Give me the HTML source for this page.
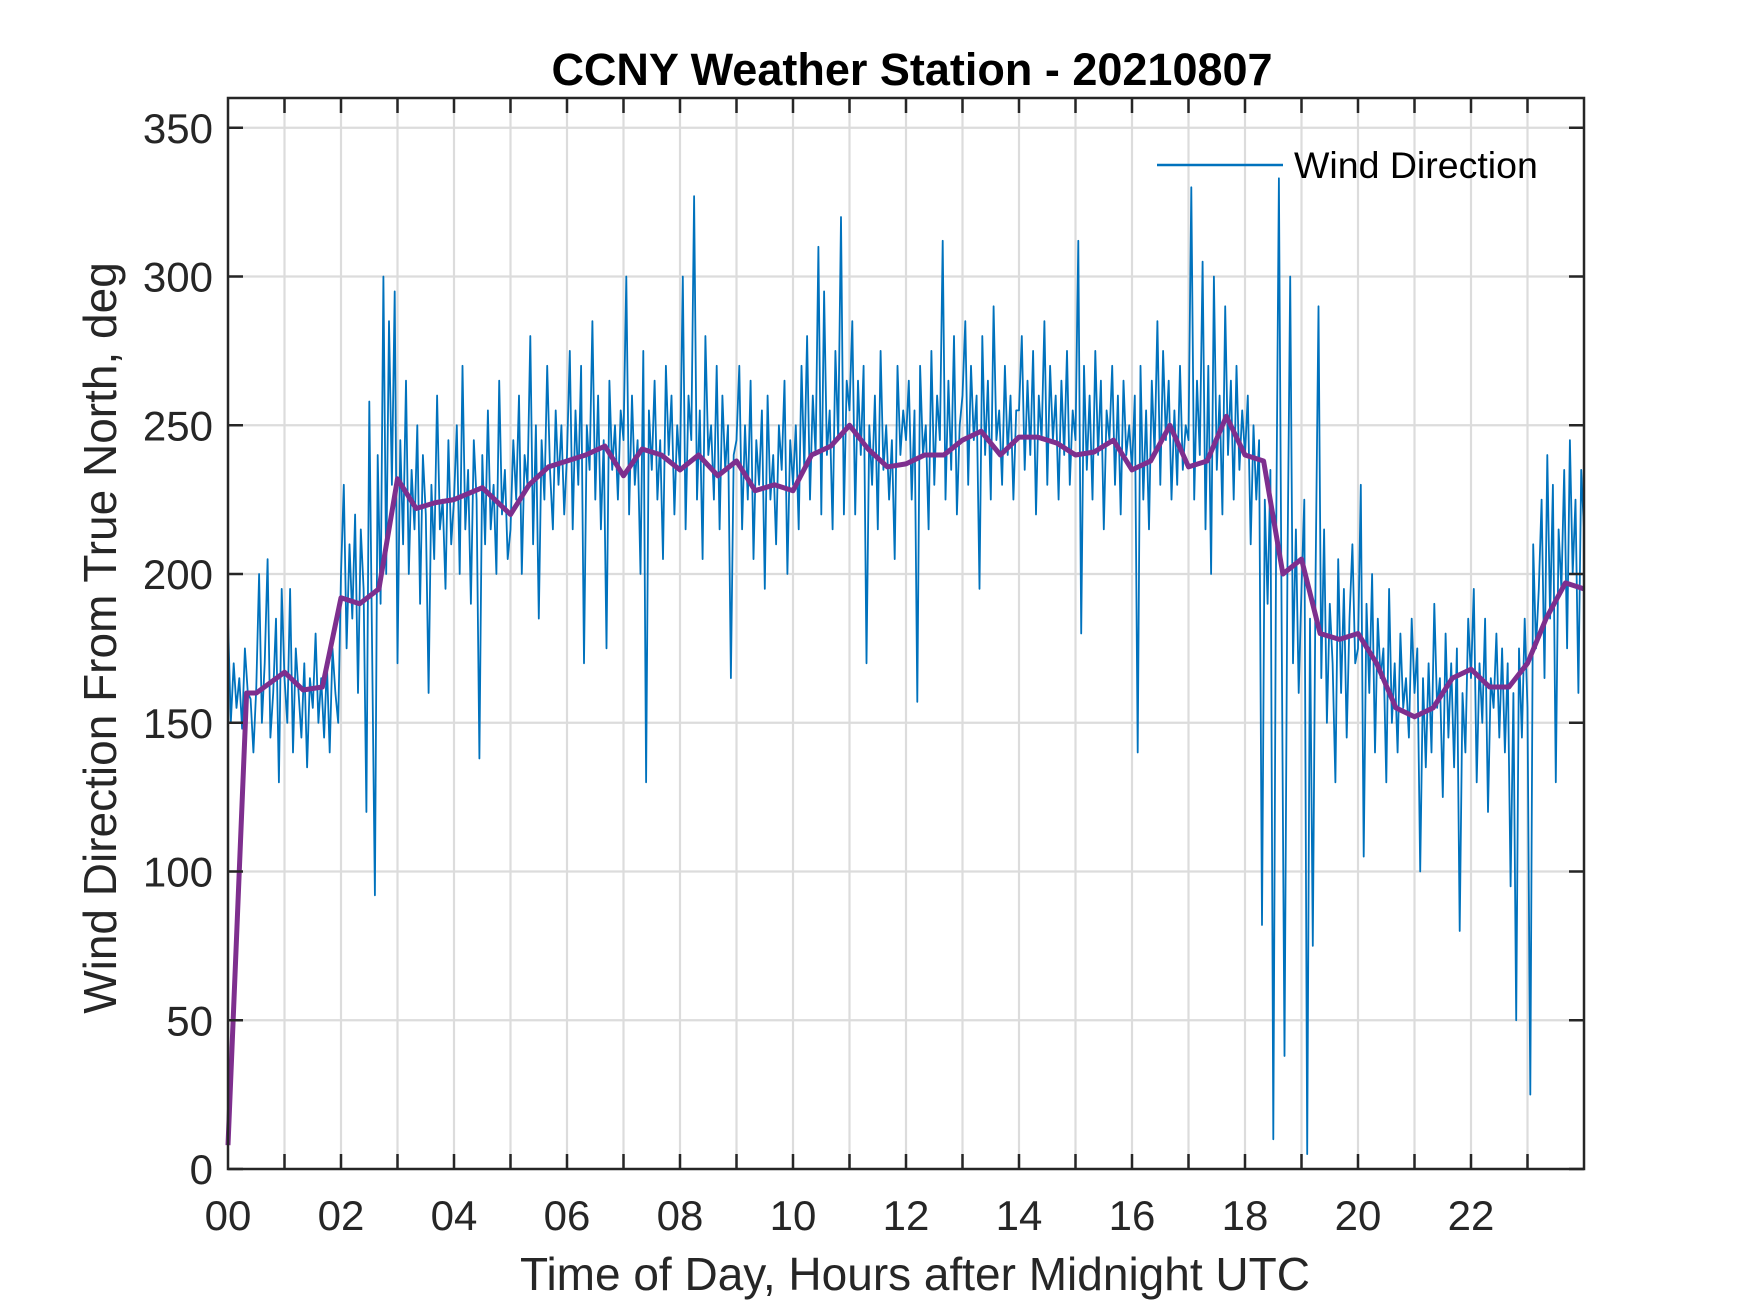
<!DOCTYPE html>
<html><head><meta charset="utf-8"><style>
html,body{margin:0;padding:0;background:#fff;}
svg{display:block;font-family:"Liberation Sans",Arial,sans-serif;}
</style></head><body>
<svg id="chart" width="1750" height="1313" viewBox="0 0 1750 1313">
<rect x="0" y="0" width="1750" height="1313" fill="#fff"/>
<g id="grid"></g>
<g id="plot"></g>
<g id="axes"></g>
<text x="912" y="85" text-anchor="middle" font-size="45" font-weight="bold" fill="#000">CCNY Weather Station - 20210807</text>
<text x="915" y="1290" text-anchor="middle" font-size="46" fill="#262626">Time of Day, Hours after Midnight UTC</text>
<text transform="translate(116,638) rotate(-90)" text-anchor="middle" font-size="46" fill="#262626">Wind Direction From True North, deg</text>
<g>
<line x1="1157" y1="165" x2="1283" y2="165" stroke="#0072BD" stroke-width="2.5"/>
<text x="1294" y="178" font-size="37.5" fill="#000">Wind Direction</text>
</g>
</svg>
<script>
const xTicks=[0,2,4,6,8,10,12,14,16,18,20,22];
const xTickLabels=["00","02","04","06","08","10","12","14","16","18","20","22"];
const yTicks=[0,50,100,150,200,250,300,350];
const rawStepHours=0.05;
const rawValues=[
185,150,170,155,165,148,175,160,158,140,162,200,150,170,205,145,160,185,130,195,
165,150,195,140,175,160,145,170,135,165,155,180,150,165,145,170,140,175,160,150,
200,230,175,210,185,220,160,215,195,120,258,175,92,240,190,300,200,285,230,295,
170,245,210,265,200,235,215,250,190,240,220,160,230,205,260,215,225,195,245,210,
225,250,200,270,215,235,190,245,225,138,240,210,255,215,230,200,265,220,235,205,
215,245,225,260,200,240,230,280,210,250,185,245,225,270,235,215,255,230,250,220,
240,275,215,255,230,270,170,250,235,285,225,260,215,245,175,265,235,250,225,255,
245,300,220,260,230,245,200,275,130,255,235,265,225,245,205,270,240,260,220,250,
235,300,215,260,245,327,225,255,205,280,240,250,225,270,215,260,235,250,165,240,
245,270,215,250,225,265,205,245,230,255,195,260,225,240,210,250,235,265,200,245,
230,250,215,270,235,280,225,260,240,310,220,295,240,255,215,275,245,320,220,265,
255,285,220,265,240,270,170,250,230,260,215,275,235,250,225,245,205,270,240,255,
245,265,225,255,157,270,240,250,215,275,230,260,245,312,225,265,235,280,220,250,
260,285,230,270,245,260,195,280,240,265,225,290,245,255,230,270,240,260,225,255,
255,280,235,265,240,275,220,260,245,285,230,270,245,260,225,265,240,275,230,255,
245,312,180,270,235,260,225,275,240,265,215,255,245,270,230,260,220,265,240,250,
235,260,140,270,225,255,215,265,240,285,230,275,245,265,225,255,230,270,235,250,
245,330,225,265,240,305,215,270,200,300,235,260,220,290,240,265,225,270,235,255,
240,260,210,250,225,245,82,225,190,235,10,210,333,180,38,200,300,170,215,160,
195,225,5,185,75,200,290,165,215,150,190,170,130,205,160,195,145,185,210,170,
175,230,105,190,160,200,140,185,165,175,130,195,150,170,140,180,155,165,145,185,
160,175,100,165,135,170,140,190,155,165,125,180,145,170,135,175,80,160,140,185,
165,195,130,170,150,185,120,165,155,180,145,175,140,170,95,160,50,175,145,185,
155,25,210,175,195,225,165,240,185,230,130,215,195,235,175,245,200,225,160,235,215];
const smoothHours=[0,0.33,0.5,1,1.33,1.67,2,2.33,2.67,3,3.33,3.67,4,4.5,5,5.33,5.67,6,6.33,6.67,7,7.33,7.67,8,8.33,8.67,9,9.33,9.67,10,10.33,10.67,11,11.33,11.67,12,12.33,12.67,13,13.33,13.67,14,14.33,14.67,15,15.33,15.67,16,16.33,16.67,17,17.33,17.67,18,18.33,18.67,19,19.33,19.67,20,20.33,20.67,21,21.33,21.67,22,22.33,22.67,23,23.33,23.67,24];
const smoothValues=[8,160,160,167,161,162,192,190,195,232,222,224,225,229,220,230,236,238,240,243,233,242,240,235,240,233,238,228,230,228,240,243,250,242,236,237,240,240,245,248,240,246,246,244,240,241,245,235,238,250,236,238,253,240,238,200,205,180,178,180,170,155,152,155,165,168,162,162,170,185,197,195];

const X0=228,X1=1584,Y0=1169,Y1=98;
function sx(h){return X0+(h/24)*(X1-X0);}
function sy(v){return Y0-(v/360)*(Y0-Y1);}
const NS="http://www.w3.org/2000/svg";
function mk(tag,attrs,parent){const e=document.createElementNS(NS,tag);for(const k in attrs)e.setAttribute(k,attrs[k]);parent.appendChild(e);return e;}
const grid=document.getElementById('grid'),plot=document.getElementById('plot'),axes=document.getElementById('axes');
for(let h=1;h<24;h++){
  const l=mk('line',{x1:sx(h),x2:sx(h),y1:Y1,y2:Y0,stroke:'#dcdcdc','stroke-width':2.2},grid);
  
  
}
yTicks.forEach(v=>{if(v===0)return;
  const l=mk('line',{x1:X0,x2:X1,y1:sy(v),y2:sy(v),stroke:'#dcdcdc','stroke-width':2.2},grid);
  
  
});
let d='';
rawValues.forEach((v,i)=>{d+=(i?'L':'M')+sx(Math.min(24,i*rawStepHours)).toFixed(1)+','+sy(v).toFixed(1);});
const raw=mk('path',{d:d,fill:'none',stroke:'#0072BD','stroke-width':1.8,'stroke-linejoin':'round'},plot);


let d2='';
smoothValues.forEach((v,i)=>{d2+=(i?'L':'M')+sx(smoothHours[i]).toFixed(1)+','+sy(v).toFixed(1);});
const sm=mk('path',{d:d2,fill:'none',stroke:'#7E2F8E','stroke-width':5,'stroke-linejoin':'round'},plot);


const box=mk('rect',{x:X0,y:Y1,width:X1-X0,height:Y0-Y1,fill:'none',stroke:'#262626','stroke-width':2.5},axes);


for(let h=1;h<24;h++){
  const t1=mk('line',{x1:sx(h),x2:sx(h),y1:Y0,y2:Y0-15,stroke:'#262626','stroke-width':2.5},axes);
  
  
  const t2=mk('line',{x1:sx(h),x2:sx(h),y1:Y1,y2:Y1+15,stroke:'#262626','stroke-width':2.5},axes);
  
  
}
xTicks.forEach((h,i)=>{
  const t=mk('text',{x:sx(h),y:1230,'text-anchor':'middle','font-size':42,fill:'#262626'},axes);
  t.textContent=xTickLabels[i];
  
  
});
yTicks.forEach(v=>{
  const a=mk('line',{x1:X0,x2:X0+15,y1:sy(v),y2:sy(v),stroke:'#262626','stroke-width':2.5},axes);
  
  
  const b=mk('line',{x1:X1,x2:X1-15,y1:sy(v),y2:sy(v),stroke:'#262626','stroke-width':2.5},axes);
  
  
  const t=mk('text',{x:213,y:sy(v)+15,'text-anchor':'end','font-size':42,fill:'#262626'},axes);
  t.textContent=String(v);
  
  
});
</script>
</body></html>
